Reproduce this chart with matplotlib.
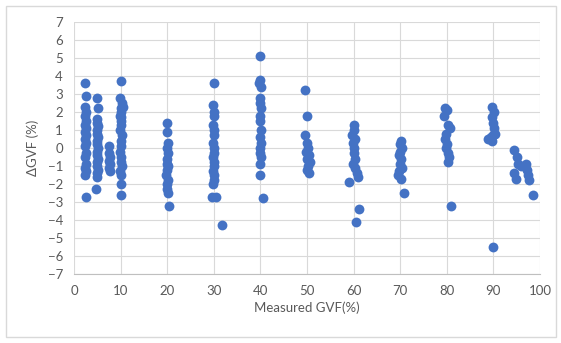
import numpy as np
import matplotlib
matplotlib.use("Agg")
import matplotlib.pyplot as plt
from matplotlib.patches import Rectangle

# measured GVF (%) and deviation dGVF (%), grouped by test series
x_03 = [2.4, 2.6, 2.3, 2.5, 2.4, 2.6, 2.3, 2.5, 2.4, 2.6, 2.3, 2.5, 2.4, 2.6, 2.3, 2.5, 2.4, 2.6, 2.3, 2.5]
y_03 = [3.6, 2.9, 2.3, 2.0, 1.8, 1.5, 1.3, 1.1, 0.9, 0.7, 0.5, 0.3, 0.1, -0.3, -0.5, -0.9, -1.1, -1.3, -1.5, -2.7]

x_05 = [5.0, 5.1, 5.0, 4.9, 5.1, 5.0, 4.9, 5.1, 5.0, 4.9, 5.1, 5.0, 4.9, 5.1, 5.0, 4.9, 5.1, 5.0, 4.9, 4.8]
y_05 = [2.8, 2.2, 1.6, 1.4, 1.2, 1.0, 0.8, 0.6, 0.4, 0.2, 0.0, -0.2, -0.4, -0.6, -0.8, -1.0, -1.2, -1.4, -1.6, -2.3]

x_08 = [7.4, 7.6, 7.8, 7.5, 7.7, 7.6, 7.8]
y_08 = [0.1, -0.3, -0.5, -0.7, -0.9, -1.1, -1.3]

x_10 = [10.0, 9.9, 10.2, 10.1, 10.0, 9.9, 10.1, 10.0, 9.9, 10.2, 10.1, 10.0, 9.9, 10.1, 10.0, 10.2, 9.9, 10.0, 10.1, 10.0, 10.0, 10.6]
y_10 = [3.7, 2.8, 2.5, 2.2, 2.0, 1.8, 1.5, 1.3, 1.0, 0.7, 0.4, 0.1, -0.2, -0.5, -0.8, -1.0, -1.3, -1.5, -2.0, -2.6, 1.7, 2.3]

x_20 = [20.0, 20.0, 20.2, 19.9, 20.1, 20.0, 19.9, 20.2, 20.0, 19.8, 20.1, 20.0, 19.9, 20.1, 20.3]
y_20 = [1.4, 0.9, 0.3, 0.0, -0.3, -0.6, -0.9, -1.0, -1.2, -1.5, -1.8, -2.0, -2.3, -2.5, -3.2]

x_30 = [30.0, 29.9, 30.0, 30.1, 29.9, 30.0, 30.1, 29.9, 30.0, 30.1, 29.9, 30.0, 30.1, 29.9, 30.0, 30.1, 29.9, 29.6, 30.4, 31.8]
y_30 = [3.6, 2.4, 2.0, 1.8, 1.3, 1.0, 0.7, 0.3, 0.0, -0.3, -0.5, -0.8, -1.0, -1.3, -1.5, -1.8, -2.0, -2.7, -2.7, -4.3]

x_40 = [40.0, 40.0, 39.7, 40.2, 39.9, 40.0, 40.1, 39.9, 40.0, 40.2, 39.9, 40.1, 40.0, 39.8, 40.1, 39.9, 40.0, 40.5]
y_40 = [5.1, 3.8, 3.6, 3.4, 2.8, 2.5, 2.2, 1.8, 1.5, 1.0, 0.6, 0.3, 0.0, -0.3, -0.5, -0.9, -1.5, -2.8]

x_50 = [49.6, 49.9, 49.5, 49.9, 50.3, 49.8, 50.5, 50.0, 50.6, 50.2, 49.9, 50.4]
y_50 = [3.2, 1.8, 0.7, 0.3, 0.0, -0.2, -0.4, -0.6, -0.8, -1.0, -1.2, -1.4]

x_60 = [60.0, 60.1, 59.7, 60.2, 59.9, 60.1, 60.0, 60.2, 59.9, 60.4, 60.8, 61.0, 59.0, 61.1, 60.6]
y_60 = [1.3, 1.0, 0.7, 0.5, 0.3, 0.0, -0.3, -0.6, -0.9, -1.1, -1.4, -1.6, -1.9, -3.4, -4.1]

x_70 = [70.2, 69.9, 70.3, 70.0, 69.8, 70.2, 70.0, 70.3, 69.8, 69.5, 70.1, 70.8]
y_70 = [0.4, 0.2, 0.0, -0.2, -0.4, -0.6, -0.9, -1.1, -1.3, -1.5, -1.7, -2.5]

x_80 = [79.6, 80.1, 79.5, 80.3, 80.6, 79.8, 79.6, 80.0, 79.9, 80.2, 80.4, 80.2, 80.8]
y_80 = [2.2, 2.1, 1.8, 1.3, 1.1, 0.8, 0.5, 0.2, 0.0, -0.3, -0.5, -0.8, -3.2]

x_90 = [89.7, 90.2, 89.8, 89.9, 90.1, 90.4, 90.0, 89.4, 88.9, 89.6, 90.0]
y_90 = [2.3, 2.0, 1.7, 1.4, 1.1, 0.8, 0.7, 0.6, 0.5, 0.4, -5.5]

x_95 = [94.5, 95.0, 95.2, 96.0, 96.9, 97.2, 97.5, 97.7, 94.5, 94.8, 98.5]
y_95 = [-0.1, -0.5, -0.9, -1.0, -0.9, -1.2, -1.5, -1.8, -1.4, -1.7, -2.6]

xs = x_03 + x_05 + x_08 + x_10 + x_20 + x_30 + x_40 + x_50 + x_60 + x_70 + x_80 + x_90 + x_95
ys = y_03 + y_05 + y_08 + y_10 + y_20 + y_30 + y_40 + y_50 + y_60 + y_70 + y_80 + y_90 + y_95

plt.rcParams['font.family'] = ['Lato', 'DejaVu Sans']
text_c = '#595959'
grid_c = '#d9d9d9'

fig = plt.figure(figsize=(5.61, 3.43), dpi=100)
ax = fig.add_axes([0.132, 0.201, 0.8306, 0.735])

ax.scatter(xs, ys, s=50, color='#4472c4', zorder=3, linewidths=0)

ax.set_xlim(0, 100)
ax.set_ylim(-7, 7)
ax.set_xticks(np.arange(0, 101, 10))
ax.set_yticks(np.arange(-7, 8, 1))
ax.grid(True, color=grid_c, linewidth=0.8, zorder=0)
ax.set_axisbelow(True)
for side in ['top', 'right', 'left']:
    ax.spines[side].set_visible(False)
ax.spines['bottom'].set_color('#bfbfbf')
ax.tick_params(length=0, colors=text_c, labelsize=9.5, pad=8)

ax.set_xlabel('Measured GVF(%)', color=text_c, fontsize=9.5, labelpad=3)
ax.set_ylabel('ΔGVF (%)', color=text_c, fontsize=9.5, labelpad=6)

# light chart-area border
fig.patches.append(Rectangle((6 / 561, 6 / 343), 550 / 561, 331 / 343, transform=fig.transFigure,
                             fill=False, edgecolor='#d9d9d9', linewidth=1))

fig.savefig('out.png', dpi=100)
